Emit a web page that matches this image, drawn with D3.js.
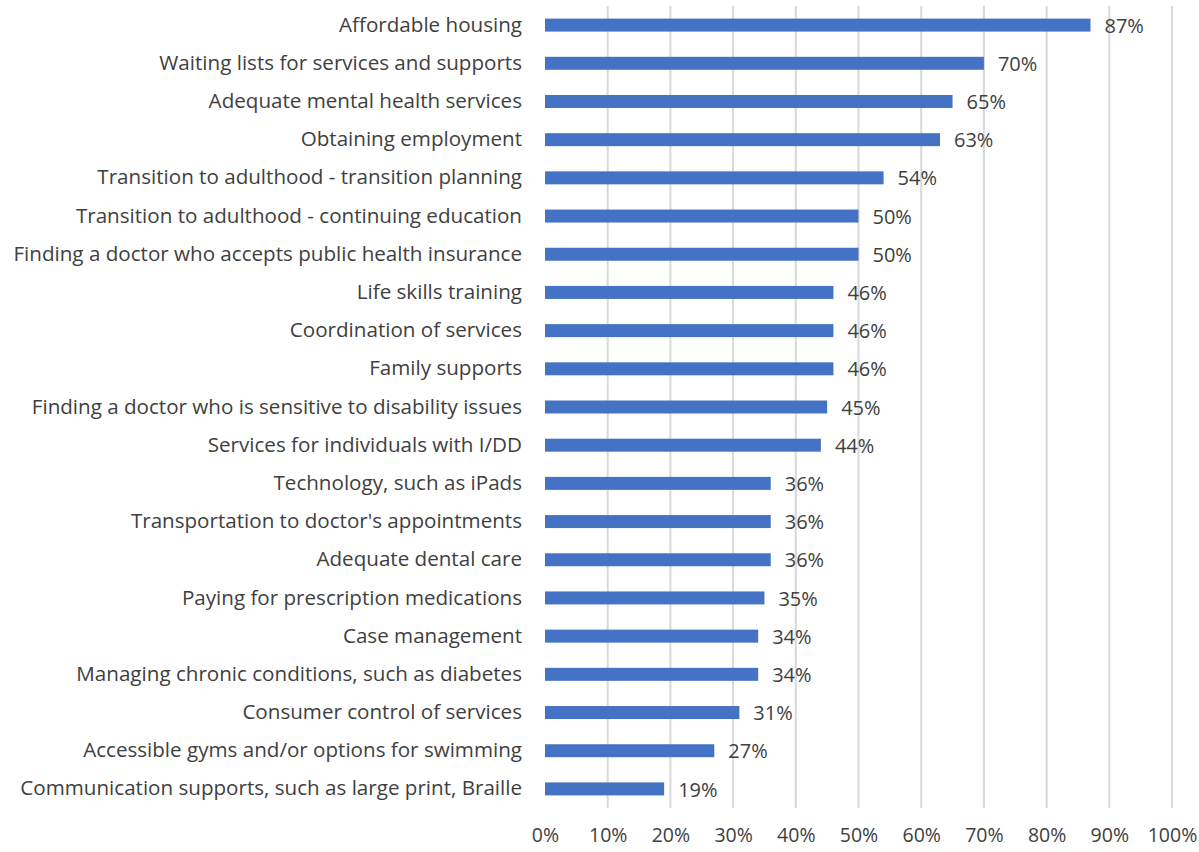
<!DOCTYPE html>
<html>
<head>
<meta charset="utf-8">
<script src="https://cdn.jsdelivr.net/npm/d3@7"></script>
<style>
  body { margin: 0; background: #fff; }
  svg text { font-family: "Open Sans", "Noto Sans", sans-serif; fill: #404040; }
</style>
</head>
<body>
<svg id="chart" width="1199" height="852"></svg>
<script>
const categories = [
  "Affordable housing",
  "Waiting lists for services and supports",
  "Adequate mental health services",
  "Obtaining employment",
  "Transition to adulthood - transition planning",
  "Transition to adulthood - continuing education",
  "Finding a doctor who accepts public health insurance",
  "Life skills training",
  "Coordination of services",
  "Family supports",
  "Finding a doctor who is sensitive to disability issues",
  "Services for individuals with I/DD",
  "Technology, such as iPads",
  "Transportation to doctor's appointments",
  "Adequate dental care",
  "Paying for prescription medications",
  "Case management",
  "Managing chronic conditions, such as diabetes",
  "Consumer control of services",
  "Accessible gyms and/or options for swimming",
  "Communication supports, such as large print, Braille"
]
const values = [87, 70, 65, 63, 54, 50, 50, 46, 46, 46, 45, 44, 36, 36, 36, 35, 34, 34, 31, 27, 19]
const ticks = [0, 10, 20, 30, 40, 50, 60, 70, 80, 90, 100]

const margin = {top: 6, left: 545, right: 27, bottom: 44}
const width = 1199, height = 852
const svg = d3.select('#chart')

const x = d3.scaleLinear().domain([0, 100]).range([margin.left, width - margin.right])
const y = d3.scaleBand().domain(categories).range([margin.top, height - margin.bottom]).paddingInner(0.66).paddingOuter(0.33)

// gridlines
svg.append('g')
  .selectAll('line')
  .data(ticks.slice(1))
  .join('line')
  .attr('x1', d => x(d)).attr('x2', d => x(d))
  .attr('y1', margin.top).attr('y2', height - margin.bottom)
  .attr('stroke', '#d9d9d9').attr('stroke-width', 2)

// bars
svg.append('g')
  .selectAll('rect')
  .data(values)
  .join('rect')
  .attr('x', x(0))
  .attr('y', (d, i) => y(categories[i]))
  .attr('width', d => x(d) - x(0))
  .attr('height', y.bandwidth())
  .attr('fill', '#4472c4')

// data labels
svg.append('g')
  .selectAll('text')
  .data(values)
  .join('text')
  .attr('x', d => x(d) + 14)
  .attr('y', (d, i) => y(categories[i]) + y.bandwidth() / 2)
  .attr('dy', '0.38em')
  .attr('font-size', 20)
  .text(d => d + '%')

// category labels
const yAxis = svg.append('g')
  .attr('transform', `translate(${margin.left},0)`)
  .call(d3.axisLeft(y).tickSize(0).tickPadding(23))
yAxis.select('.domain').remove()
yAxis.selectAll('text').attr('font-size', 20.6).attr('fill', '#404040')

// x axis labels
const xAxis = svg.append('g')
  .attr('transform', `translate(0,${height - margin.bottom})`)
  .call(d3.axisBottom(x).tickValues(ticks).tickFormat(d => d + '%').tickSize(0).tickPadding(20))
xAxis.select('.domain').remove()
xAxis.selectAll('text').attr('font-size', 19.5).attr('fill', '#404040')
</script>
</body>
</html>
